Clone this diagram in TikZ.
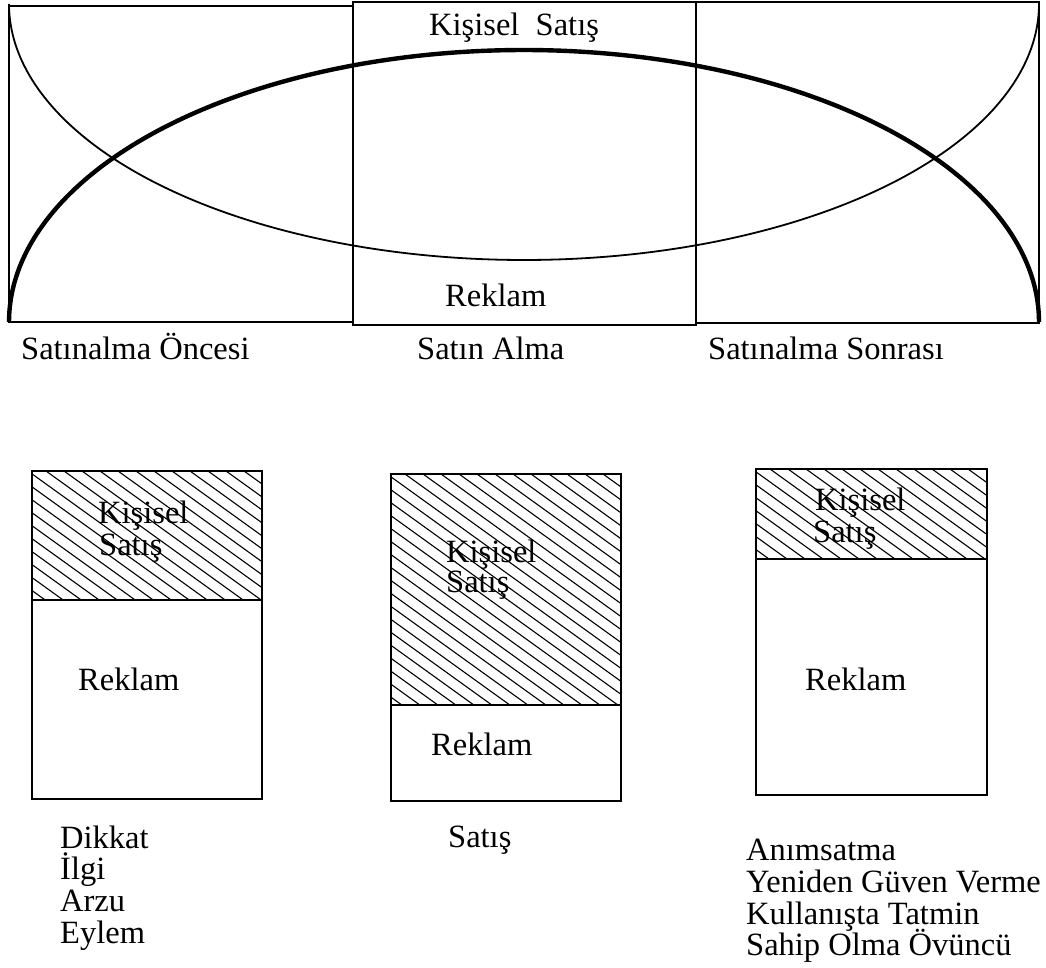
\documentclass[tikz,border=0pt]{standalone}
\usepackage{fontspec}
\setmainfont{Liberation Serif}
\begin{document}
\begin{tikzpicture}[x=1pt,y=-1pt,
  frame/.style={draw=black,line width=2.2pt,line join=miter},
  thincurve/.style={draw=black,line width=1.8pt},
  thickcurve/.style={draw=black,line width=4.4pt},
  hatchline/.style={draw=black,line width=1.1pt},
  lbl/.style={inner sep=0pt,anchor=base west,font=\fontsize{32.5}{33}\selectfont}]
\useasboundingbox (0,0) rectangle (1046,968);

% ---- top chart: phases of the purchase ----
\draw[frame] (353,6) -- (9,6) -- (9,322) -- (353,322);
\draw[frame] (353,2) rectangle (696,325);
\draw[frame] (696,2) -- (1039,2) -- (1039,323) -- (696,323);
% advertising share (thin) and personal selling share (thick)
\draw[thincurve] plot[domain=180:0,samples=160,smooth]
  ({524+515*cos(\x)},{4+256*sin(\x)});
\draw[thickcurve] plot[domain=180:0,samples=160,smooth]
  ({524+515*cos(\x)},{322-272*sin(\x)});

\node[lbl] (topks) at (429,36) {Kişisel\ \ Satış};
\node[lbl] (toprk) at (445,306) {Reklam};
\node[lbl] (ph1) at (21,359) {Satınalma Öncesi};
\node[lbl] (ph2) at (417,359) {Satın Alma};
\node[lbl] (ph3) at (708,359) {Satınalma Sonrası};

% ---- bottom: three mix boxes ----
% box 1
\begin{scope}
  \clip (32,471) rectangle (262,600);
  \foreach \k in {-400,-382,...,260}
    \draw[hatchline] (32+\k,471) -- ++(500,360);
\end{scope}
\draw[frame] (32,471) rectangle (262,799);
\draw[frame] (32,600) -- (262,600);
\node[lbl] (b1ks) at (98,523) {Kişisel};
\node[lbl] (b1st) at (99,555) {Satış};
\node[lbl] (b1rk) at (78,690) {Reklam};

% box 2
\begin{scope}
  \clip (391,474) rectangle (621,705);
  \foreach \k in {-400,-382,...,260}
    \draw[hatchline] (391+\k,474) -- ++(500,360);
\end{scope}
\draw[frame] (391,474) rectangle (621,801);
\draw[frame] (391,705) -- (621,705);
\node[lbl] (b2ks) at (446,562) {Kişisel};
\node[lbl] (b2st) at (446,592) {Satış};
\node[lbl] (b2rk) at (431,755) {Reklam};

% box 3
\begin{scope}
  \clip (756,469) rectangle (987,559);
  \foreach \k in {-400,-382,...,260}
    \draw[hatchline] (756+\k,469) -- ++(500,360);
\end{scope}
\draw[frame] (756,469) rectangle (987,795);
\draw[frame] (756,559) -- (987,559);
\node[lbl] (b3ks) at (815,510) {Kişisel};
\node[lbl] (b3st) at (813,542) {Satış};
\node[lbl] (b3rk) at (805,690) {Reklam};

% ---- effects listed under each box ----
\node[lbl] (l1a) at (60,848) {Dikkat};
\node[lbl] (l1b) at (60,879) {İlgi};
\node[lbl] (l1c) at (60,911) {Arzu};
\node[lbl] (l1d) at (60,943) {Eylem};

\node[lbl] (l2a) at (448,847) {Satış};

\node[lbl] (l3a) at (746,860) {Anımsatma};
\node[lbl] (l3b) at (746,892) {Yeniden Güven Verme};
\node[lbl] (l3c) at (746,924) {Kullanışta Tatmin};
\node[lbl] (l3d) at (746,955) {Sahip Olma Övüncü};
\end{tikzpicture}
\end{document}
